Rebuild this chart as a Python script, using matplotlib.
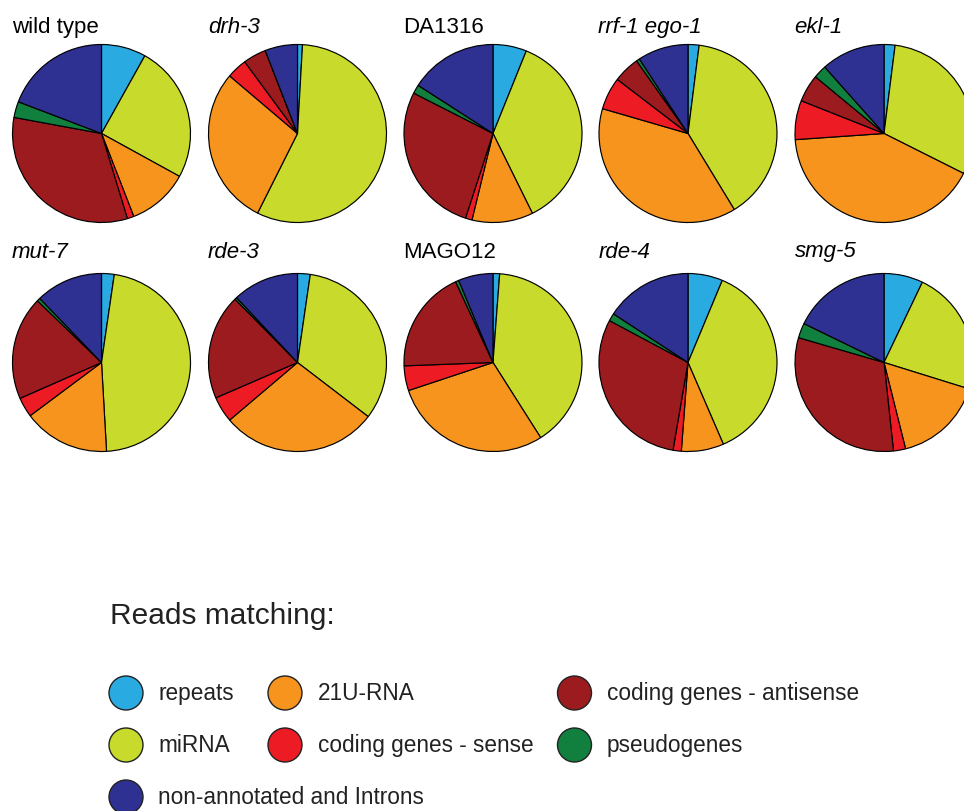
import matplotlib
matplotlib.use("Agg")
import matplotlib.pyplot as plt
from matplotlib.patches import Circle

# Read categories, drawn clockwise from 12 o'clock in this order
categories = ["repeats", "miRNA", "21U-RNA", "coding genes - sense",
              "coding genes - antisense", "pseudogenes",
              "non-annotated and Introns"]
colors = ["#29ABE2", "#C8DA2C", "#F7941D", "#ED1C24",
          "#9B1B1F", "#11803F", "#2E3192"]

# Library names (first row, then second row) and whether the name is a gene (italic)
samples = ["wild type", "drh-3", "DA1316", "rrf-1 ego-1", "ekl-1",
           "mut-7", "rde-3", "MAGO12", "rde-4", "smg-5"]
is_gene = [False, True, False, True, True,
           True, True, False, True, True]

# Percent of reads per category for each library
wild_type = [8.1, 24.9, 11.1, 1.2, 32.6, 2.9, 19.2]
drh_3 = [0.9, 56.5, 28.8, 3.7, 4.2, 0.0, 5.9]
da1316 = [6.1, 36.6, 11.1, 1.2, 27.5, 1.6, 15.9]
rrf_1_ego_1 = [2.0, 39.3, 38.2, 5.9, 4.8, 0.6, 9.2]
ekl_1 = [2.0, 30.4, 41.5, 7.1, 5.0, 2.4, 11.6]
mut_7 = [2.3, 46.8, 15.7, 3.6, 18.8, 0.6, 12.2]
rde_3 = [2.3, 33.1, 28.4, 4.7, 19.1, 0.4, 12.0]
mago12 = [1.2, 39.8, 28.9, 4.5, 18.7, 0.6, 6.3]
rde_4 = [6.3, 37.2, 7.7, 1.5, 30.1, 1.4, 15.8]
smg_5 = [7.1, 22.7, 16.3, 2.2, 31.2, 2.7, 17.8]
shares = [wild_type, drh_3, da1316, rrf_1_ego_1, ekl_1,
          mut_7, rde_3, mago12, rde_4, smg_5]

W, H = 964, 811
fig = plt.figure(figsize=(W / 100, H / 100), dpi=100)
ax = fig.add_axes([0, 0, 1, 1])

FONT = "Liberation Sans"
col_x = [101.5, 297.5, 493, 688, 884]
row_y = [133.5, 362.5]
title_y = [33, 257.5]
R = 89

for i, (name, vals) in enumerate(zip(samples, shares)):
    r, c = divmod(i, 5)
    cx, cy = col_x[c], row_y[r]
    ax.pie(vals, colors=colors, startangle=90, counterclock=False,
           center=(cx, H - cy), radius=R, frame=True,
           wedgeprops=dict(edgecolor="black", linewidth=0.85))
    ax.text(cx - R - 0.5, H - title_y[r], name, fontsize=16, family=FONT,
            style="italic" if is_gene[i] else "normal",
            ha="left", va="baseline", color="black")

# Key
ax.text(110, H - 624, "Reads matching:", fontsize=21.5, family=FONT,
        ha="left", va="baseline", color="#222222")

# (marker x, marker y, label x) for each category, in pixel units
key_slots = [(126, 693, 158), (126, 745, 158), (285, 693, 318),
             (285, 745, 318), (574.5, 693, 607), (574.5, 745, 607),
             (126, 797, 158)]
for k, (mx, my, tx) in enumerate(key_slots):
    ax.add_patch(Circle((mx, H - my), 17, facecolor=colors[k],
                        edgecolor="#222222", linewidth=1.0))
    ax.text(tx, H - my - 7, categories[k], fontsize=16.3,
            family=FONT, ha="left", va="baseline", color="#222222")

ax.set_xlim(0, W)
ax.set_ylim(0, H)
ax.set_aspect("auto")
ax.axis("off")

fig.savefig("out.png", dpi=100, facecolor="white")
